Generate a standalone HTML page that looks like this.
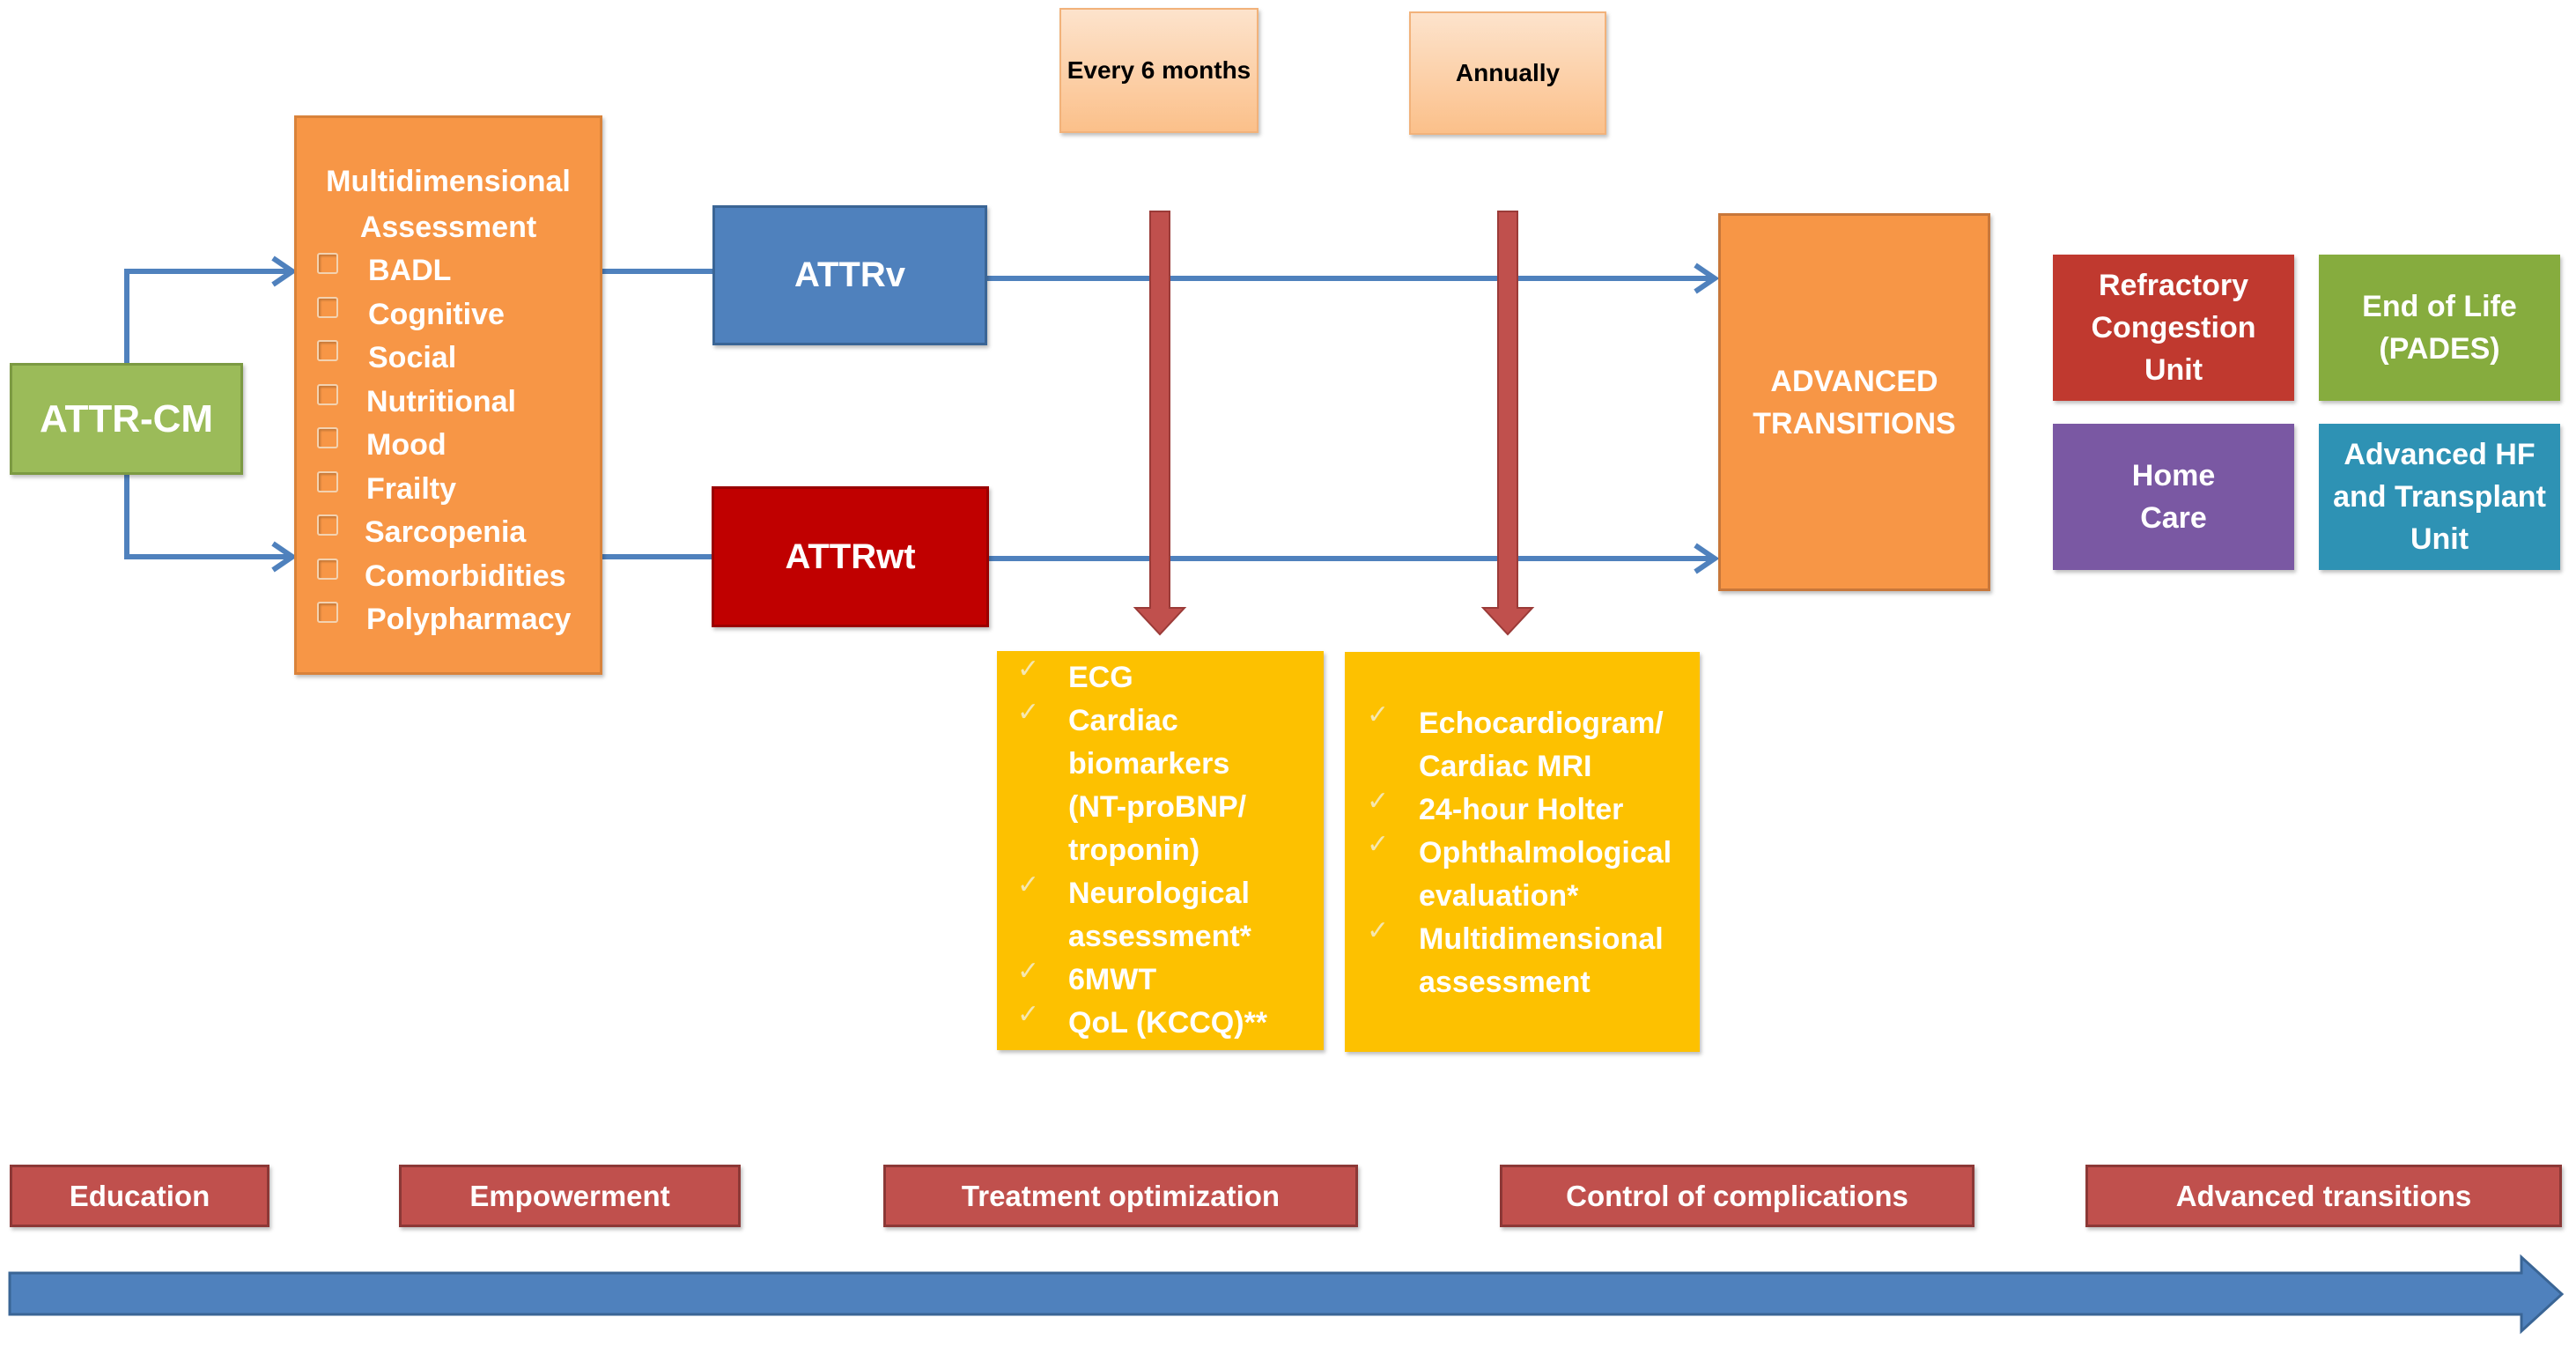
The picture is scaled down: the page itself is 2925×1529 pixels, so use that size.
<!DOCTYPE html>
<html><head><meta charset="utf-8">
<style>
body{margin:0;width:2925px;height:1529px;background:#fff;position:relative;overflow:hidden;font-family:"Liberation Sans",Arial,sans-serif;font-weight:bold;color:#fff}
.b{position:absolute;box-sizing:border-box;display:flex;align-items:center;justify-content:center;text-align:center;box-shadow:2px 3px 4px rgba(0,0,0,.25)}
.t{position:absolute;white-space:nowrap}
.chk{position:absolute;width:20px;height:20px;border:2px solid #f3d2b0;border-radius:3px;box-shadow:inset 2px 2px 2px rgba(0,0,0,.2)}
.ck{position:absolute;color:#f5e7b0;font-size:30px;font-weight:normal}
</style></head><body>
<svg width="2925" height="1529" style="position:absolute;left:0;top:0">
<defs>
<marker id="ah" markerWidth="10" markerHeight="10" refX="8" refY="5" orient="auto" markerUnits="userSpaceOnUse"><path d="M0,0 L10,5 L0,10" fill="none"/></marker>
</defs>
<g stroke="#4f81bd" stroke-width="6" fill="none">
<path d="M144,412 V308 H328"/><path d="M144,539 V632 H328"/>
<path d="M310,293 L332,308 L310,323"/><path d="M310,617 L332,632 L310,647"/>
<path d="M684,308 H809"/><path d="M684,632 H808"/>
<path d="M1121,316 H1945"/><path d="M1123,634 H1945"/>
<path d="M1925,301 L1947,316 L1925,331"/><path d="M1925,619 L1947,634 L1925,649"/>
</g>
<g fill="#c0504d" stroke="#9b3b38" stroke-width="2">
<path d="M1306,240 H1328 V690 H1345 L1317,720 L1289,690 H1306 Z"/>
<path d="M1701,240 H1723 V690 H1740 L1712,720 L1684,690 H1701 Z"/>
</g>
<path d="M11,1445 H2863 V1427 L2909,1469 L2863,1511 V1492 H11 Z" fill="#4f81bd" stroke="#3a6595" stroke-width="3"/>
</svg>

<div class="b" style="left:11px;top:412px;width:265px;height:127px;background:#9bbb59;border:3px solid #7c9a42;font-size:44px">ATTR-CM</div>

<div class="b" style="left:334px;top:131px;width:350px;height:635px;background:#f79646;border:3px solid #d9823a;display:block"></div>
<div class="t" style="left:334px;width:350px;text-align:center;top:180px;font-size:34px;line-height:52px">Multidimensional<br>Assessment</div>
<div style="position:absolute;left:360px;top:283px;font-size:34px;line-height:49.5px">
<div style="position:relative">
<div class="chk" style="left:0;top:4px"></div><span style="margin-left:58px">BADL</span></div>
<div style="position:relative"><div class="chk" style="left:0;top:4px"></div><span style="margin-left:58px">Cognitive</span></div>
<div style="position:relative"><div class="chk" style="left:0;top:4px"></div><span style="margin-left:58px">Social</span></div>
<div style="position:relative"><div class="chk" style="left:0;top:4px"></div><span style="margin-left:56px">Nutritional</span></div>
<div style="position:relative"><div class="chk" style="left:0;top:4px"></div><span style="margin-left:56px">Mood</span></div>
<div style="position:relative"><div class="chk" style="left:0;top:4px"></div><span style="margin-left:56px">Frailty</span></div>
<div style="position:relative"><div class="chk" style="left:0;top:4px"></div><span style="margin-left:54px">Sarcopenia</span></div>
<div style="position:relative"><div class="chk" style="left:0;top:4px"></div><span style="margin-left:54px">Comorbidities</span></div>
<div style="position:relative"><div class="chk" style="left:0;top:4px"></div><span style="margin-left:56px">Polypharmacy</span></div>
</div>

<div class="b" style="left:809px;top:233px;width:312px;height:159px;background:#4f81bd;border:3px solid #3a6595;font-size:40px">ATTRv</div>
<div class="b" style="left:808px;top:552px;width:315px;height:160px;background:#c00000;border:3px solid #9a0000;font-size:40px">ATTRwt</div>

<div class="b" style="left:1203px;top:9px;width:226px;height:142px;background:linear-gradient(#fde3cc,#fbc08a);border:2px solid #f2b27a;color:#000;font-size:28px">Every 6 months</div>
<div class="b" style="left:1600px;top:13px;width:224px;height:140px;background:linear-gradient(#fde3cc,#fbc08a);border:2px solid #f2b27a;color:#000;font-size:28px">Annually</div>

<div class="b" style="left:1951px;top:242px;width:309px;height:429px;background:#f79646;border:3px solid #c8773a;font-size:34px;line-height:48px">ADVANCED<br>TRANSITIONS</div>

<div class="b" style="left:2331px;top:289px;width:274px;height:166px;background:#c0392f;font-size:34px;line-height:48px">Refractory<br>Congestion<br>Unit</div>
<div class="b" style="left:2633px;top:289px;width:274px;height:166px;background:#86ac3e;font-size:34px;line-height:48px">End of Life<br>(PADES)</div>
<div class="b" style="left:2331px;top:481px;width:274px;height:166px;background:#7a58a3;font-size:34px;line-height:48px">Home<br>Care</div>
<div class="b" style="left:2633px;top:481px;width:274px;height:166px;background:#2e92b4;font-size:34px;line-height:48px">Advanced HF<br>and Transplant<br>Unit</div>

<div class="b" style="left:1132px;top:739px;width:371px;height:453px;background:#fdc100;display:block"></div>
<div class="t" style="left:1213px;top:745px;font-size:34px;line-height:49px">ECG<br>Cardiac<br>biomarkers<br>(NT-proBNP/<br>troponin)<br>Neurological<br>assessment*<br>6MWT<br>QoL (KCCQ)**</div>
<div class="ck" style="left:1155px;top:742px">✓</div>
<div class="ck" style="left:1155px;top:791px">✓</div>
<div class="ck" style="left:1155px;top:987px">✓</div>
<div class="ck" style="left:1155px;top:1085px">✓</div>
<div class="ck" style="left:1155px;top:1134px">✓</div>

<div class="b" style="left:1527px;top:740px;width:403px;height:454px;background:#fdc100;display:block"></div>
<div class="t" style="left:1611px;top:797px;font-size:34px;line-height:49px">Echocardiogram/<br>Cardiac MRI<br>24-hour Holter<br>Ophthalmological<br>evaluation*<br>Multidimensional<br>assessment</div>
<div class="ck" style="left:1552px;top:794px">✓</div>
<div class="ck" style="left:1552px;top:892px">✓</div>
<div class="ck" style="left:1552px;top:941px">✓</div>
<div class="ck" style="left:1552px;top:1039px">✓</div>

<div class="b" style="left:11px;top:1322px;width:295px;height:71px;background:#c0504d;border:3px solid #8c3836;font-size:33px">Education</div>
<div class="b" style="left:453px;top:1322px;width:388px;height:71px;background:#c0504d;border:3px solid #8c3836;font-size:33px">Empowerment</div>
<div class="b" style="left:1003px;top:1322px;width:539px;height:71px;background:#c0504d;border:3px solid #8c3836;font-size:33px">Treatment optimization</div>
<div class="b" style="left:1703px;top:1322px;width:539px;height:71px;background:#c0504d;border:3px solid #8c3836;font-size:33px">Control of complications</div>
<div class="b" style="left:2368px;top:1322px;width:541px;height:71px;background:#c0504d;border:3px solid #8c3836;font-size:33px">Advanced transitions</div>
</body></html>
